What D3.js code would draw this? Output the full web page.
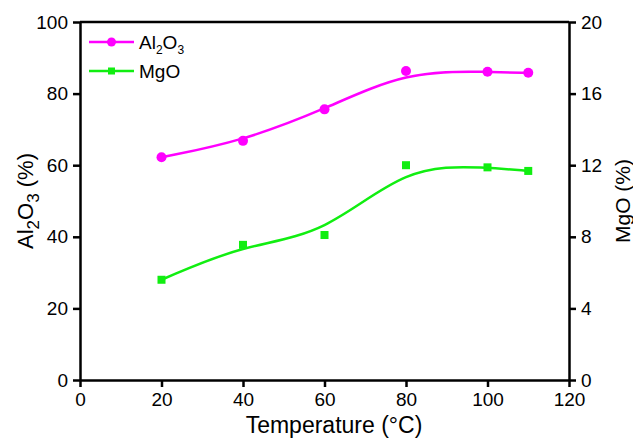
<!DOCTYPE html>
<html>
<head>
<meta charset="utf-8">
<script src="https://cdn.jsdelivr.net/npm/d3@7"></script>
<style>
  html, body { margin: 0; padding: 0; background: #fff; }
  svg { display: block; font-family: "Liberation Sans", Arial, sans-serif; }
</style>
</head>
<body>
<svg id="chart" width="633" height="439"></svg>
<script>
// Temperature steps (°C)
const temperatures = [20, 40, 60, 80, 100, 110];
// Al2O3 content (%), left axis
const al2o3Values = [62.2, 66.8, 75.6, 86.3, 86.1, 85.8];
// MgO content (%), right axis
const mgoValues = [5.6, 7.55, 8.1, 12.0, 11.88, 11.68];
// Tick labels
const xTicks = [0, 20, 40, 60, 80, 100, 120];
const leftTicks = [0, 20, 40, 60, 80, 100];
const rightTicks = [0, 4, 8, 12, 16, 20];

const alColor = "#ff00ff";
const mgColor = "#11ee11";

const svg = d3.select("#chart");
const m = { left: 80, right: 569, top: 22, bottom: 380 };

const x = d3.scaleLinear().domain([0, 120]).range([m.left, m.right]);
const yL = d3.scaleLinear().domain([0, 100]).range([m.bottom, m.top]);
const yR = d3.scaleLinear().domain([0, 20]).range([m.bottom, m.top]);

// frame top line
svg.append("line")
  .attr("x1", m.left).attr("x2", m.right)
  .attr("y1", m.top).attr("y2", m.top)
  .attr("stroke", "#000").attr("stroke-width", 2.5);

function styleAxis(g) {
  g.selectAll("path.domain").attr("stroke", "#000").attr("stroke-width", 2.5);
  g.selectAll(".tick line").attr("stroke", "#000").attr("stroke-width", 2.5);
  g.selectAll(".tick text").attr("fill", "#000").style("font-size", "19px")
    .style("font-family", '"Liberation Sans", Arial, sans-serif');
}

svg.append("g")
  .attr("transform", `translate(0,${m.bottom})`)
  .call(d3.axisBottom(x).tickValues(xTicks).tickSize(7).tickPadding(6).tickSizeOuter(0))
  .call(styleAxis);

svg.append("g")
  .attr("transform", `translate(${m.left},0)`)
  .call(d3.axisLeft(yL).tickValues(leftTicks).tickSize(7).tickPadding(5).tickSizeOuter(0))
  .call(styleAxis);

svg.append("g")
  .attr("transform", `translate(${m.right},0)`)
  .call(d3.axisRight(yR).tickValues(rightTicks).tickSize(7).tickPadding(5).tickSizeOuter(0))
  .call(styleAxis);

// smoothed curves
const alLine = d3.line().curve(d3.curveBasis)
  .x((d, i) => x(temperatures[i])).y(d => yL(d));
const mgLine = d3.line().curve(d3.curveBasis)
  .x((d, i) => x(temperatures[i])).y(d => yR(d));

svg.append("path").datum(al2o3Values)
  .attr("d", alLine).attr("fill", "none")
  .attr("stroke", alColor).attr("stroke-width", 2.5);
svg.append("path").datum(mgoValues)
  .attr("d", mgLine).attr("fill", "none")
  .attr("stroke", mgColor).attr("stroke-width", 2.5);

// markers
svg.selectAll("circle.al").data(al2o3Values).enter().append("circle")
  .attr("class", "al")
  .attr("cx", (d, i) => x(temperatures[i])).attr("cy", d => yL(d))
  .attr("r", 5).attr("fill", alColor);

const sq = 8;
svg.selectAll("rect.mg").data(mgoValues).enter().append("rect")
  .attr("class", "mg")
  .attr("x", (d, i) => x(temperatures[i]) - sq / 2).attr("y", d => yR(d) - sq / 2)
  .attr("width", sq).attr("height", sq).attr("fill", mgColor);

// legend
const leg = svg.append("g");
const legItems = [
  { color: alColor, y: 42, shape: "circle" },
  { color: mgColor, y: 71, shape: "square" }
];
legItems.forEach(it => {
  leg.append("line").attr("x1", 89).attr("x2", 134).attr("y1", it.y).attr("y2", it.y)
    .attr("stroke", it.color).attr("stroke-width", 2.5);
  if (it.shape === "circle") {
    leg.append("circle").attr("cx", 111.5).attr("cy", it.y).attr("r", 4.5).attr("fill", it.color);
  } else {
    leg.append("rect").attr("x", 108).attr("y", it.y - 3.5).attr("width", 7).attr("height", 7).attr("fill", it.color);
  }
});
const t1 = leg.append("text").attr("x", 139).attr("y", 49).style("font-size", "19px").attr("fill", "#000");
t1.append("tspan").text("Al");
t1.append("tspan").text("2").style("font-size", "12px").attr("dy", 5);
t1.append("tspan").text("O").attr("dy", -5);
t1.append("tspan").text("3").style("font-size", "12px").attr("dy", 5);
leg.append("text").attr("x", 139).attr("y", 78).style("font-size", "19px").attr("fill", "#000").text("MgO");

// axis titles
svg.append("text")
  .attr("x", 334).attr("y", 433)
  .attr("text-anchor", "middle").style("font-size", "23px").attr("fill", "#000")
  .text("Temperature (°C)");

const lt = svg.append("text")
  .attr("transform", `translate(33,${(m.top + m.bottom) / 2}) rotate(-90)`)
  .attr("text-anchor", "middle").style("font-size", "22px").attr("fill", "#000");
lt.append("tspan").text("Al");
lt.append("tspan").text("2").style("font-size", "17px").attr("dy", 6);
lt.append("tspan").text("O").attr("dy", -6);
lt.append("tspan").text("3").style("font-size", "17px").attr("dy", 6);
lt.append("tspan").text(" (%)").attr("dy", -6);

svg.append("text")
  .attr("transform", `translate(630,${(m.top + m.bottom) / 2}) rotate(-90)`)
  .attr("text-anchor", "middle").style("font-size", "21px").attr("fill", "#000")
  .text("MgO (%)");
</script>
</body>
</html>
